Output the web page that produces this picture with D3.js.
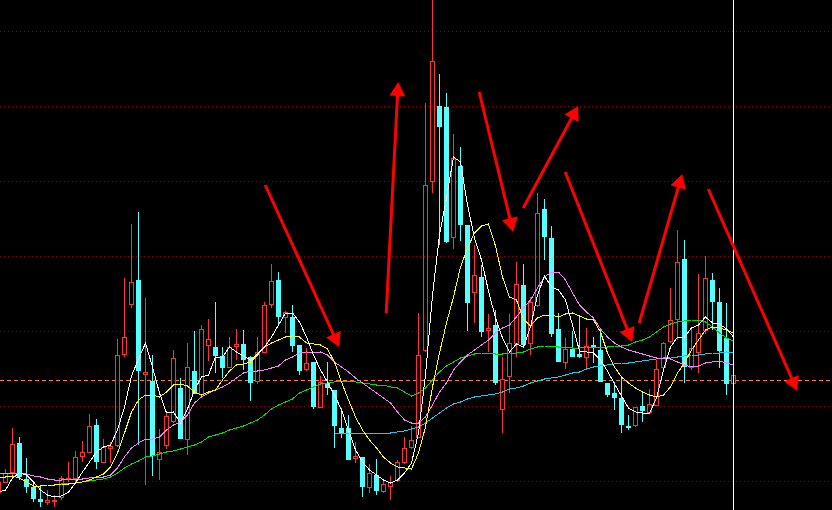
<!DOCTYPE html>
<html><head><meta charset="utf-8">
<script src="https://cdn.jsdelivr.net/npm/d3@7"></script>
<style>html,body{margin:0;padding:0;background:#000;overflow:hidden}</style>
</head><body>
<svg id="chart" width="832" height="510"></svg>
<script>
// ---- candle data (index 0..105) ----
const openP = [1.78,1.98,2.18,2.76,2.04,1.88,1.64,1.58,1.60,1.68,
2.04,2.06,2.50,2.58,3.12,2.38,2.66,2.72,4.54,5.54,
6.02,4.14,4.00,2.44,2.72,3.20,3.86,2.84,4.20,3.74,
4.72,4.68,4.50,4.28,4.70,4.74,4.48,4.00,4.58,5.54,
6.02,5.28,5.28,4.72,4.24,4.38,3.48,3.96,3.82,3.06,
3.06,2.46,2.48,1.88,2.12,1.80,1.90,2.02,2.38,2.68,
2.88,4.62,8.00,9.50,9.48,6.88,8.30,7.12,5.78,6.08,
5.02,5.12,3.44,4.10,4.76,5.92,4.76,5.52,7.44,6.86,
5.04,4.38,4.64,4.54,4.48,4.72,4.62,3.96,3.76,3.66,
3.10,3.12,3.50,3.38,3.52,4.28,4.80,5.24,6.44,4.28,
4.58,5.02,6.02,5.58,4.86,3.96];
const highP = [2.02,2.24,3.06,2.88,2.46,1.96,1.88,1.82,1.72,2.10,
2.38,2.60,2.80,3.34,3.24,2.84,2.78,4.84,6.06,7.14,
7.38,5.66,4.52,3.04,3.36,4.62,4.06,4.76,5.00,5.12,
5.24,5.58,4.68,4.88,5.04,5.02,4.50,4.88,5.58,6.34,
6.18,5.40,5.52,4.72,4.66,4.38,4.10,4.38,3.82,3.46,
3.32,2.78,2.48,2.34,2.44,2.02,2.10,2.42,2.88,3.10,
5.36,9.56,11.82,10.14,9.76,8.94,8.68,7.12,6.72,6.32,
5.34,5.42,4.48,5.34,6.38,6.34,5.68,7.76,7.64,7.10,
5.36,4.86,5.00,5.32,5.06,4.88,5.04,3.96,3.98,4.08,
3.32,3.48,3.76,3.84,4.42,4.78,5.86,7.02,6.82,5.06,
6.14,6.50,6.16,5.86,5.56,4.16];
const lowP = [1.74,1.96,2.08,2.02,1.76,1.58,1.48,1.52,1.48,1.62,
1.98,1.98,2.38,2.56,2.24,2.36,2.36,2.68,4.48,5.46,
2.72,1.92,2.10,2.02,2.64,3.16,2.84,2.52,3.74,3.68,
4.40,4.16,4.06,4.28,4.42,4.22,3.60,3.94,4.56,5.46,
5.12,4.96,4.58,4.12,4.20,3.44,3.48,3.72,2.66,2.86,
2.42,2.36,1.68,1.76,1.72,1.76,1.62,1.98,2.34,2.64,
2.86,4.58,7.76,6.72,6.76,6.64,6.80,5.00,5.16,4.88,
4.58,3.92,2.96,3.76,4.48,4.72,4.52,5.48,6.42,4.88,
4.38,4.24,4.48,4.46,4.26,4.36,3.98,3.68,3.42,2.96,
3.02,3.08,3.18,3.38,3.52,4.22,4.76,4.82,3.96,4.22,
4.16,4.94,5.02,4.26,3.72,3.92];
const closeP = [1.98,2.16,2.74,2.08,1.88,1.64,1.58,1.62,1.62,2.06,
2.06,2.48,2.58,3.10,2.38,2.68,2.70,4.52,4.88,5.98,
4.20,4.18,2.50,2.58,3.30,4.46,2.84,4.28,3.74,5.04,
4.84,4.50,4.26,4.68,4.74,4.42,3.96,4.58,5.52,6.00,
5.28,5.38,4.70,4.20,4.36,3.48,3.98,3.86,3.10,2.96,
2.42,2.50,1.88,2.16,1.80,1.94,1.98,2.38,2.66,2.82,
4.52,7.92,10.40,9.08,6.78,8.46,7.12,5.56,6.12,4.98,
5.06,3.96,4.04,4.76,5.94,4.72,5.58,7.36,6.88,4.94,
4.38,4.64,4.48,4.48,4.70,4.66,3.98,3.72,3.66,3.12,
3.06,3.48,3.40,3.54,4.24,4.76,5.22,6.38,4.28,4.66,
4.96,6.06,5.58,4.60,3.94,4.12];

// ---- moving average lines as drawn ----
const ma5 = [1.78,1.82,2.06,2.16,2.12,1.98,1.82,1.72,1.68,1.70,
1.78,1.96,2.18,2.38,2.58,2.68,2.72,3.02,3.48,4.10,
4.44,4.76,4.28,3.76,3.36,3.38,3.16,3.44,3.82,4.08,
4.12,4.48,4.48,4.68,4.58,4.50,4.42,4.54,4.68,4.88,
5.12,5.36,5.36,5.18,4.88,4.52,4.22,3.98,3.72,3.42,
3.02,2.62,2.38,2.22,2.12,2.02,1.96,2.02,2.16,2.36,
2.96,4.12,5.72,6.92,7.66,8.48,8.38,7.52,6.86,6.42,
5.80,5.26,4.86,4.58,4.74,4.68,5.08,5.72,6.10,5.88,
5.82,5.62,5.12,4.60,4.58,4.56,4.42,4.20,3.94,3.70,
3.46,3.38,3.36,3.36,3.66,4.22,4.68,4.88,4.88,5.06,
5.12,5.28,5.16,5.14,5.04,4.88];
const ma10 = [2.08,2.08,2.10,2.06,1.98,1.90,1.90,1.92,1.92,1.94,
1.94,1.96,1.98,2.02,2.08,2.14,2.28,2.56,2.96,3.38,
3.62,3.72,3.72,3.68,3.78,3.92,3.94,3.90,3.78,3.72,
3.78,3.82,4.02,4.20,4.32,4.34,4.38,4.52,4.68,4.76,
4.82,4.88,4.90,4.88,4.76,4.74,4.72,4.64,4.38,3.98,
3.62,3.28,3.02,2.82,2.66,2.48,2.36,2.28,2.26,2.24,
2.56,3.08,3.88,4.56,5.16,5.68,6.28,6.66,6.96,7.10,
7.14,6.70,6.08,5.68,5.62,5.24,5.10,5.26,5.32,5.32,
5.28,5.34,5.36,5.30,5.24,5.22,4.98,4.56,4.28,4.08,
3.96,3.86,3.78,3.72,3.68,3.72,3.88,4.16,4.36,4.62,
4.82,5.02,5.08,5.06,5.02,4.96];
const ma20 = [2.16,2.16,2.16,2.16,2.14,2.10,2.08,2.04,2.02,2.02,
2.04,2.04,2.04,2.06,2.08,2.08,2.12,2.26,2.48,2.66,
2.76,2.84,2.84,2.88,3.02,3.12,3.18,3.32,3.56,3.68,
3.76,3.82,3.88,3.96,4.06,4.16,4.20,4.20,4.22,4.26,
4.30,4.42,4.48,4.56,4.58,4.56,4.58,4.52,4.38,4.28,
4.18,4.06,3.96,3.86,3.76,3.66,3.56,3.38,3.22,3.16,
3.16,3.28,3.52,3.78,3.96,4.22,4.38,4.52,4.62,4.72,
4.82,4.96,5.06,5.12,5.28,5.46,5.62,5.86,6.08,6.18,
6.18,6.02,5.76,5.52,5.38,5.26,5.04,4.88,4.76,4.68,
4.62,4.58,4.54,4.50,4.46,4.46,4.44,4.38,4.32,4.28,
4.30,4.36,4.38,4.40,4.36,4.32];
const ma60 = [null,null,null,null,null,null,null,null,1.94,1.94,
1.96,1.96,1.98,2.00,2.02,2.04,2.08,2.16,2.26,2.34,
2.40,2.48,2.50,2.54,2.58,2.60,2.64,2.68,2.72,2.78,
2.88,2.92,2.96,3.02,3.06,3.10,3.16,3.22,3.32,3.44,
3.52,3.58,3.64,3.76,3.82,3.88,3.94,3.96,3.98,4.00,
4.00,3.98,3.96,3.94,3.92,3.92,3.88,3.86,3.78,3.70,
3.76,3.86,4.02,4.18,4.30,4.38,4.46,4.50,4.54,4.56,
4.56,4.54,4.54,4.56,4.56,4.58,4.64,4.68,4.70,4.70,
4.68,4.68,4.66,4.66,4.68,4.68,4.68,4.68,4.70,4.70,
4.72,4.78,4.82,4.88,4.98,5.08,5.14,5.18,5.20,5.22,
5.22,5.18,5.08,4.96,4.86,4.80];
const ma120 = [null,null,null,null,null,null,null,null,null,null,
null,null,null,null,null,null,null,null,null,null,
null,null,null,null,null,null,null,null,null,null,
null,null,null,null,null,null,null,null,null,null,
null,null,null,null,null,null,null,null,2.96,2.96,
2.96,2.96,2.96,2.96,2.96,2.96,2.96,2.98,3.00,3.04,
3.08,3.16,3.26,3.36,3.46,3.54,3.58,3.64,3.68,3.70,
3.72,3.74,3.78,3.84,3.86,3.90,3.96,4.00,4.04,4.06,
4.08,4.12,4.16,4.18,4.24,4.28,4.30,4.32,4.34,4.36,
4.36,4.38,4.40,4.42,4.44,4.46,4.48,4.48,4.50,4.52,
4.52,4.54,4.56,4.56,4.58,4.56];

// ---- reference levels ----
const gridValues = [2, 3.5, 5, 6.5, 8, 9.5, 11];
const refPrice = 4.02;

// ---- annotation arrows: [fromIndex, fromPrice, toIndex, toPrice] ----
const arrows = [
  [38.1, 7.92, 48.67, 4.68],
  [55.39, 5.36, 57.1, 9.98],
  [68.67, 9.78, 73.53, 6.98],
  [74.96, 7.46, 82.81, 9.50],
  [80.96, 8.18, 90.53, 4.78],
  [91.53, 5.16, 97.67, 8.14],
  [101.39, 7.84, 114.1, 3.80]
];

const W = 832, H = 510;
const svg = d3.select('#chart');
svg.append('rect').attr('width', W).attr('height', H).attr('fill', '#000');

const n = closeP.length;
const x = d3.scaleLinear().domain([0, n - 1]).range([-1.5, 733.5]);
const y = d3.scaleLinear().domain([1.42, 11.62]).range([H, 0]);

// grid
const gGrid = svg.append('g').call(d3.axisRight(y).tickValues(gridValues).tickSize(W).tickFormat(''));
gGrid.select('.domain').remove();
gGrid.selectAll('.tick line').attr('stroke', '#8a0000').attr('stroke-dasharray', '1,3');

// reference dashed line
svg.append('line')
  .attr('x1', 0).attr('x2', W)
  .attr('y1', Math.round(y(refPrice)) + 0.5).attr('y2', Math.round(y(refPrice)) + 0.5)
  .attr('stroke', '#ff7f27').attr('stroke-width', 1).attr('stroke-dasharray', '4,3');

// candles
const RED = '#ff3232', CY = '#54ffff';
const snap = v => Math.round(v) + 0.5;
const gC = svg.append('g');
d3.range(n).forEach(i => {
  const o = openP[i], c = closeP[i], h = highP[i], l = lowP[i];
  const xc = x(i);
  const up = c >= o;
  const top = Math.max(o, c), bot = Math.min(o, c);
  if (up) {
    const yt = snap(y(top)), yb = snap(y(bot));
    gC.append('line').attr('x1', xc).attr('x2', xc).attr('y1', y(h)).attr('y2', yt).attr('stroke', RED);
    gC.append('line').attr('x1', xc).attr('x2', xc).attr('y1', yb).attr('y2', y(l)).attr('stroke', RED);
    gC.append('rect').attr('x', xc - 2).attr('y', yt).attr('width', 4).attr('height', Math.max(0, yb - yt))
      .attr('fill', 'none').attr('stroke', RED).attr('stroke-width', 1);
  } else {
    gC.append('line').attr('x1', xc).attr('x2', xc).attr('y1', y(h)).attr('y2', y(l)).attr('stroke', CY);
    const yt = Math.round(y(top)), yb = Math.round(y(bot));
    gC.append('rect').attr('x', xc - 2.5).attr('y', yt).attr('width', 5).attr('height', Math.max(1, yb - yt))
      .attr('fill', CY);
  }
});

// moving averages
const maSeries = [
  [ma120, '#1ec8e6'],
  [ma60, '#00e000'],
  [ma20, '#ff80ff'],
  [ma10, '#ffff00'],
  [ma5, '#ffffff']
];
const line = d3.line().defined(d => d != null).x((d, i) => x(i)).y(d => y(d));
maSeries.forEach(([data, col]) => {
  svg.append('path').attr('d', line(data)).attr('fill', 'none').attr('stroke', col)
    .attr('stroke-width', 1).attr('shape-rendering', 'crispEdges');
});

// cursor line at last bar
svg.append('line').attr('x1', x(n - 1)).attr('x2', x(n - 1)).attr('y1', 0).attr('y2', H)
  .attr('stroke', '#ffffff').attr('stroke-width', 1);

// arrows
const gA = svg.append('g');
arrows.forEach(([i0, p0, i1, p1]) => {
  const x0 = x(i0), y0 = y(p0), x1 = x(i1), y1 = y(p1);
  const dx = x1 - x0, dy = y1 - y0, len = Math.hypot(dx, dy);
  const ux = dx / len, uy = dy / len, px = -uy, py = ux;
  const L = 14, Wd = 8;
  const bx = x1 - ux * L, by = y1 - uy * L;
  gA.append('line').attr('x1', x0).attr('y1', y0).attr('x2', bx + ux * 2).attr('y2', by + uy * 2)
    .attr('stroke', '#ff0000').attr('stroke-width', 3);
  gA.append('path')
    .attr('d', `M${x1},${y1}L${bx + px * Wd},${by + py * Wd}L${bx - px * Wd},${by - py * Wd}Z`)
    .attr('fill', '#ff0000');
});
</script>
</body></html>
